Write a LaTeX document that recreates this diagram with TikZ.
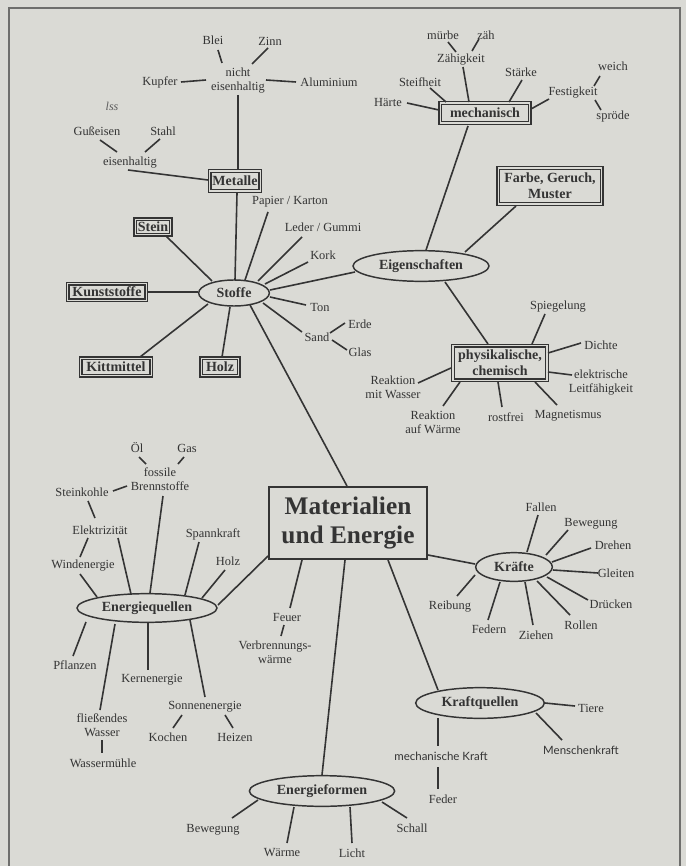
\documentclass[tikz,border=0pt]{standalone}
\usepackage{fontspec}
\setmainfont{Liberation Serif}
\newfontfamily\sansf{Lato}
\usetikzlibrary{calc,shapes.geometric}
\definecolor{bgc}{RGB}{218,218,213}
\definecolor{ink}{RGB}{52,52,52}
\definecolor{frm}{RGB}{110,110,108}
\newcommand\cnx[4]{\draw[link] ($(#1)+(#2)$) -- ($(#3)+(#4)$);}
\tikzset{
 lbl/.style={font=\fontsize{9.3}{10.5}\selectfont, text=ink, inner sep=1pt, align=center},
 slbl/.style={font=\sansf\fontsize{8.6}{10}\selectfont, text=ink, inner sep=1pt, align=center},
 box/.style={draw=ink, double=bgc, double distance=0.8pt, line width=1pt, text=ink, inner sep=0pt, font=\bfseries\fontsize{10.5}{12}\selectfont, align=center},
 oval/.style={ellipse, draw=ink, line width=1.1pt, text=ink, inner sep=0pt, font=\bfseries\fontsize{10.5}{12}\selectfont},
 link/.style={draw=ink, line width=1.2pt},
}
\begin{document}
\begin{tikzpicture}[x=0.75pt,y=-0.75pt]
\useasboundingbox (0,0) rectangle (686,866);
\fill[bgc] (0,0) rectangle (686,866);
\draw[frm, line width=1.1pt] (9,866) -- (9,8) -- (680,8) -- (680,866);

% ---- Metalle cluster
\node[lbl] (blei) at (213,40) {Blei};
\node[lbl] (zinn) at (270,41) {Zinn};
\node[lbl] (nicht) at (238,81) {nicht\\eisenhaltig};
\node[lbl] (kupfer) at (160,82) {Kupfer};
\node[lbl] (alu) at (329,82) {Aluminium};
\node[lbl, text=ink!80, font=\itshape\fontsize{9}{10}\selectfont] (lss) at (112,106) {lss};
\node[lbl] (guss) at (97,131) {Gußeisen};
\node[lbl] (stahl) at (163,131) {Stahl};
\node[lbl] (eisen) at (130,163) {eisenhaltig};
\node[box, minimum width=38pt, minimum height=15pt] (metalle) at (235,181) {Metalle};

% ---- Stoffe cluster
\node[lbl] (papier) at (290,202) {Papier / Karton};
\node[lbl] (leder) at (323,227) {Leder / Gummi};
\node[lbl] (kork) at (323,255) {Kork};
\node[lbl] (ton) at (320,307) {Ton};
\node[lbl] (sand) at (317,337) {Sand};
\node[lbl] (erde) at (360,324) {Erde};
\node[lbl] (glas) at (360,352) {Glas};
\node[box, minimum width=26.5pt, minimum height=11.5pt] (stein) at (153,227) {Stein};
\node[box, minimum width=59pt, minimum height=12.5pt] (kunst) at (107,292) {Kunststoffe};
\node[box, minimum width=53pt, minimum height=13pt] (kitt) at (116,367) {Kittmittel};
\node[box, minimum width=28pt, minimum height=13pt] (holz) at (220,367) {Holz};
\node[oval, minimum width=53pt, minimum height=19.5pt] (stoffe) at (234,293) {Stoffe};

% ---- mechanisch / Eigenschaften
\node[lbl] (muerbe) at (443,35) {mürbe};
\node[lbl] (zaeh) at (486,35) {zäh};
\node[lbl] (zaehig) at (461,60) {Zähigkeit};
\node[lbl] (steif) at (420,82) {Steifheit};
\node[lbl] (staerke) at (521,72) {Stärke};
\node[lbl] (haerte) at (388,103) {Härte};
\node[box, minimum width=67pt, minimum height=15pt] (mech) at (485,113) {mechanisch};
\node[lbl] (festig) at (573,93) {Festigkeit};
\node[lbl] (weich) at (613,66) {weich};
\node[lbl] (sproede) at (613,117) {spröde};
\node[box, minimum width=77.5pt, minimum height=27pt] (farbe) at (550,186) {Farbe, Geruch,\\Muster};
\node[oval, minimum width=102pt, minimum height=23pt] (eigen) at (421,266) {Eigenschaften};
\node[lbl] (spiegel) at (558,307) {Spiegelung};
\node[box, minimum width=70.5pt, minimum height=26pt] (phys) at (500,363) {physikalische,\\chemisch};
\node[lbl] (dichte) at (601,345) {Dichte};
\node[lbl] (elektr) at (601,383) {elektrische\\Leitfähigkeit};
\node[lbl] (rmw) at (393,387) {Reaktion\\mit Wasser};
\node[lbl] (raw) at (433,422) {Reaktion\\auf Wärme};
\node[lbl] (rost) at (506,417) {rostfrei};
\node[lbl] (magnet) at (568,416) {Magnetismus};

% ---- centre
\node[draw=ink, line width=1.3pt, text=ink, inner sep=0pt, minimum width=119pt, minimum height=54.5pt, align=center, font=\bfseries\fontsize{19}{22}\selectfont] (mat) at (348,523) {Materialien\\und Energie};

% ---- Energiequellen
\node[lbl] (oel) at (137,448) {Öl};
\node[lbl] (gas) at (187,448) {Gas};
\node[lbl] (fossil) at (160,479) {fossile\\Brennstoffe};
\node[lbl] (steinkohle) at (82,492) {Steinkohle};
\node[lbl] (elektriz) at (100,530) {Elektrizität};
\node[lbl] (wind) at (83,566) {Windenergie};
\node[lbl] (spann) at (213,534) {Spannkraft};
\node[lbl] (holzz) at (228,561) {Holz};
\node[oval, minimum width=105pt, minimum height=21.5pt] (eq) at (147,608) {Energiequellen};
\node[lbl] (feuer) at (287,617) {Feuer};
\node[lbl] (verbr) at (275,652) {Verbrennungs-\\wärme};
\node[lbl] (pflanzen) at (75,665) {Pflanzen};
\node[lbl] (kern) at (152,680) {Kernenergie};
\node[lbl] (fliess) at (102,725) {fließendes\\Wasser};
\node[lbl] (wmuehle) at (103,763) {Wassermühle};
\node[lbl] (sonne) at (205,707) {Sonnenenergie};
\node[lbl] (kochen) at (168,737) {Kochen};
\node[lbl] (heizen) at (235,737) {Heizen};

% ---- Energieformen
\node[oval, minimum width=109pt, minimum height=23pt] (ef) at (322,791) {Energieformen};
\node[lbl] (bew2) at (213,830) {Bewegung};
\node[lbl] (waerme) at (282,853) {Wärme};
\node[lbl] (licht) at (352,853) {Licht};
\node[lbl] (schall) at (412,828) {Schall};

% ---- Kräfte
\node[oval, minimum width=57.5pt, minimum height=21.5pt] (kr) at (514,567) {Kräfte};
\node[lbl] (fallen) at (541,507) {Fallen};
\node[lbl] (bew) at (591,524) {Bewegung};
\node[lbl] (drehen) at (613,545) {Drehen};
\node[lbl] (gleiten) at (616,573) {Gleiten};
\node[lbl] (druecken) at (611,604) {Drücken};
\node[lbl] (rollen) at (581,625) {Rollen};
\node[lbl] (reibung) at (450,607) {Reibung};
\node[lbl] (federn) at (489,629) {Federn};
\node[lbl] (ziehen) at (536,635) {Ziehen};

% ---- Kraftquellen
\node[oval, minimum width=96.5pt, minimum height=23pt] (kq) at (480,703) {Kraftquellen};
\node[lbl] (tiere) at (591,708) {Tiere};
\node[slbl] (mensch) at (581,750) {Menschenkraft};
\node[slbl] (mkraft) at (441,756) {mechanische Kraft};
\node[lbl] (feder) at (443,799) {Feder};

% ---- connectors
\cnx{blei}{5,10}{nicht}{-16,-18}
\cnx{zinn}{-2,7}{nicht}{14,-17}
\cnx{kupfer}{21,0}{nicht}{-32,-1}
\cnx{nicht}{28,-1}{alu}{-33,0}
\cnx{nicht}{0,14}{metalle}{3,-12}
\cnx{guss}{3,9}{eisen}{-13,-11}
\cnx{stahl}{-3,8}{eisen}{15,-11}
\cnx{eisen}{-2,7}{metalle}{-27,-1}
\cnx{metalle}{2,12}{stoffe}{1,-13}
\cnx{stoffe}{11,-13}{papier}{-22,10}
\cnx{stoffe}{24,-12}{leder}{-21,10}
\cnx{stoffe}{31,-9}{kork}{-15,7}
\cnx{stoffe}{36,-3}{eigen}{-66,6}
\cnx{stoffe}{36,4}{ton}{-14,-2}
\cnx{stoffe}{29,10}{sand}{-15,-5}
\cnx{sand}{13,-4}{erde}{-15,-1}
\cnx{sand}{15,3}{glas}{-13,-2}
\cnx{stoffe}{16,12}{mat}{-1,-37}
\cnx{stoffe}{-4,14}{holz}{2,-10}
\cnx{stoffe}{-26,11}{kitt}{24,-10}
\cnx{stoffe}{-36,-1}{kunst}{41,0}
\cnx{stoffe}{-22,-12}{stein}{13,9}

\cnx{muerbe}{5,7}{zaehig}{-5,-8}
\cnx{zaeh}{-7,4}{zaehig}{11,-9}
\cnx{zaehig}{2,7}{mech}{-16,-11}
\cnx{steif}{10,6}{mech}{-39,-11}
\cnx{haerte}{19,0}{mech}{-46,-3}
\cnx{staerke}{1,8}{mech}{24,-11}
\cnx{festig}{-24,6}{mech}{46,-4}
\cnx{festig}{21,-7}{weich}{-13,10}
\cnx{festig}{22,7}{sproede}{-12,-7}
\cnx{mech}{-17,13}{eigen}{5,-16}
\cnx{farbe}{-34,20}{eigen}{44,-14}
\cnx{eigen}{24,16}{phys}{-12,-19}
\cnx{spiegel}{-13,7}{phys}{32,-19}
\cnx{dichte}{-20,-2}{phys}{48,-10}
\cnx{elektr}{-29,-8}{phys}{48,9}
\cnx{rmw}{25,-4}{phys}{-49,5}
\cnx{raw}{10,-16}{phys}{-40,19}
\cnx{rost}{-4,-10}{phys}{-2,19}
\cnx{magnet}{-11,-11}{phys}{35,19}

\cnx{oel}{2,9}{fossil}{-14,-15}
\cnx{gas}{-3,9}{fossil}{18,-15}
\cnx{steinkohle}{31,-1}{fossil}{-33,7}
\cnx{steinkohle}{6,9}{elektriz}{-5,-12}
\cnx{fossil}{3,17}{eq}{3,-15}
\cnx{elektriz}{18,8}{eq}{-16,-14}
\cnx{elektriz}{-12,8}{wind}{-3,-9}
\cnx{wind}{-3,8}{eq}{-50,-11}
\cnx{spann}{-14,8}{eq}{38,-13}
\cnx{holzz}{-3,9}{eq}{55,-10}
\cnx{eq}{71,-3}{mat}{-80,33}
\cnx{mat}{-46,37}{feuer}{3,-9}
\cnx{feuer}{-3,8}{verbr}{6,-16}
\cnx{eq}{-61,14}{pflanzen}{-2,-9}
\cnx{eq}{-32,16}{fliess}{-2,-15}
\cnx{eq}{1,15}{kern}{-4,-10}
\cnx{eq}{43,12}{sonne}{0,-10}
\cnx{fliess}{0,15}{wmuehle}{-1,-10}
\cnx{sonne}{-23,8}{kochen}{5,-9}
\cnx{sonne}{20,8}{heizen}{-2,-9}

\cnx{mat}{-3,37}{ef}{0,-16}
\cnx{ef}{-64,9}{bew2}{19,-12}
\cnx{ef}{-28,16}{waerme}{5,-10}
\cnx{ef}{28,16}{licht}{0,-10}
\cnx{ef}{60,11}{schall}{-5,-10}

\cnx{mat}{80,32}{kr}{-39,-3}
\cnx{fallen}{-3,8}{kr}{13,-15}
\cnx{bew}{-23,6}{kr}{32,-12}
\cnx{drehen}{-22,3}{kr}{38,-5}
\cnx{gleiten}{-18,0}{kr}{39,3}
\cnx{druecken}{-23,-4}{kr}{33,10}
\cnx{rollen}{-11,-10}{kr}{23,14}
\cnx{reibung}{7,-11}{kr}{-39,8}
\cnx{federn}{-1,-9}{kr}{-14,15}
\cnx{ziehen}{-3,-10}{kr}{11,15}

\cnx{mat}{40,37}{kq}{-42,-13}
\cnx{kq}{65,0}{tiere}{-16,-2}
\cnx{kq}{56,10}{mensch}{-19,-10}
\cnx{kq}{-42,15}{mkraft}{-3,-10}
\cnx{mkraft}{-3,11}{feder}{-5,-10}
\end{tikzpicture}
\end{document}
